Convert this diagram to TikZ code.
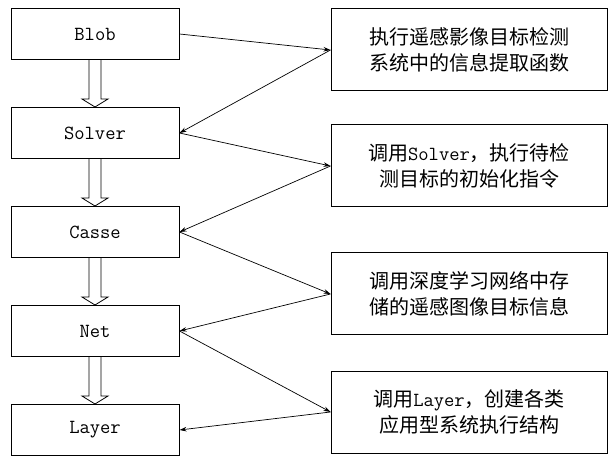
\documentclass[tikz,border=0pt]{standalone}
\usepackage{fontspec}
\newfontfamily\cjk{Noto Sans CJK SC}
\usetikzlibrary{positioning,arrows.meta}
\tikzset{
  lbox/.style={draw,line width=1pt,minimum width=168pt,minimum height=51pt,inner sep=0pt,font=\fontsize{20}{26}\selectfont\ttfamily},
  rbox/.style={draw,line width=1pt,minimum width=276pt,minimum height=82pt,inner sep=0pt,align=center,font=\fontsize{20}{26}\selectfont\cjk},
  link/.style={-{Stealth[length=7pt,width=4.5pt]},line width=0.7pt},
  hollow/.style={line width=0.8pt,line join=miter}
}
\newcommand{\lat}[1]{{\ttfamily #1}}
\begin{document}
\begin{tikzpicture}[x=1pt,y=1pt]
\useasboundingbox (0,0) rectangle (614,456);
% left column
\node[lbox] (blob) at (95,422) {Blob};
\node[lbox,below=47pt of blob] (solver) {Solver};
\node[lbox,below=47pt of solver] (casse) {Casse};
\node[lbox,below=47pt of casse] (net) {Net};
\node[lbox,below=47pt of net] (layer) {Layer};
% right column
\node[rbox] (info) at (469,406) {执行遥感影像目标检测\\系统中的信息提取函数};
\node[rbox] (init) at (469,290) {调用\lat{Solver}，执行待检\\测目标的初始化指令};
\node[rbox] (store) at (469,162) {调用深度学习网络中存\\储的遥感图像目标信息};
\node[rbox] (build) at (469,44) {调用\lat{Layer}，创建各类\\应用型系统执行结构};
% hollow arrows
\foreach \a/\b in {blob/solver,solver/casse,casse/net,net/layer}
  \draw[hollow] ([xshift=-6pt]\a.south) -- ([xshift=-6pt,yshift=8pt]\b.north) -- ++(-7pt,0) -- (\b.north) -- ++(13pt,8pt) -- ++(-7pt,0) -- ([xshift=6pt]\a.south);
% links
\foreach \a/\b in {blob.east/info.west,info.west/solver.east,solver.east/init.west,init.west/casse.east,casse.east/store.west,store.west/net.east,net.east/build.west,build.west/layer.east}
  \draw[link] (\a) -- (\b);
\end{tikzpicture}
\end{document}
